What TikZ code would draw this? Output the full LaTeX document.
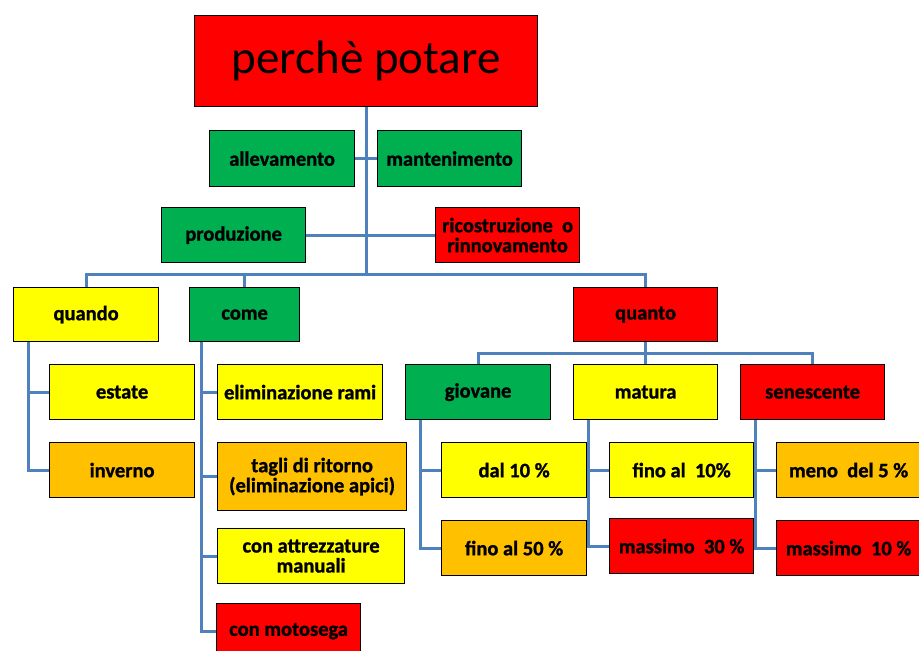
\documentclass[tikz,border=0pt]{standalone}
\usepackage{fontspec}
\setmainfont{Carlito}[BoldFeatures={FakeBold=1.2}]
\usepackage{tikz}
\usetikzlibrary{positioning, calc}

\definecolor{boxgreen}{RGB}{0,176,80}
\definecolor{boxred}{RGB}{255,0,0}
\definecolor{boxyellow}{RGB}{255,255,0}
\definecolor{boxorange}{RGB}{255,192,0}
\definecolor{linkblue}{RGB}{79,129,189}

\tikzset{
  box/.style={draw=black, line width=1.2pt, anchor=north west, align=center,
    inner sep=0pt, font=\bfseries\fontsize{20.5}{20}\selectfont},
  green/.style={box, fill=boxgreen},
  red/.style={box, fill=boxred},
  yellow/.style={box, fill=boxyellow},
  orange/.style={box, fill=boxorange},
  link/.style={draw=linkblue, line width=3pt},
}

\begin{document}
\begin{tikzpicture}[x=1pt, y=-1pt]
\useasboundingbox (0,0) rectangle (919,651);
\clip (0,0) rectangle (919,651);

% --- top: title and the four aims ---
\node[red, minimum width=343, minimum height=91, font=\fontsize{47}{50}\selectfont]
  (title) at (194,15) {perchè potare};
\node[green, minimum width=145, minimum height=56] (allev) at (209,130) {allevamento};
\node[green, minimum width=144, minimum height=56] (mant) at (377,130) {mantenimento};
\node[green, minimum width=144, minimum height=55] (prod) at (161,207) {produzione};
\node[red, minimum width=144, minimum height=55] (ricos) at (435,207)
  {ricostruzione\ \ o\\rinnovamento};

% --- second row ---
\node[yellow, minimum width=145, minimum height=54] (quando) at (13,287) {quando};
\node[green, minimum width=110, minimum height=54] (come) at (189,287) {come};
\node[red, minimum width=144, minimum height=54] (quanto) at (573,287) {quanto};

% quando
\node[yellow, minimum width=145, minimum height=55] (estate) at (49,364) {estate};
\node[orange, minimum width=145, minimum height=55] (inverno) at (49,442) {inverno};

% come
\node[yellow, minimum width=165, minimum height=55] (elimrami) at (217,364) {eliminazione rami};
\node[orange, minimum width=189, minimum height=68] (tagli) at (217,442)
  {tagli di ritorno\\(eliminazione apici)};
\node[yellow, minimum width=187, minimum height=55] (attrezz) at (217,528)
  {con attrezzature\\manuali};
\node[red, minimum width=144, minimum height=55] (motosega) at (216,603) {con motosega};

% quanto
\node[green, minimum width=145, minimum height=55] (giovane) at (405,364) {giovane};
\node[yellow, minimum width=144, minimum height=55] (matura) at (573,364) {matura};
\node[red, minimum width=144, minimum height=55] (senesc) at (740,364) {senescente};

\node[yellow, minimum width=145, minimum height=55] (dal10) at (441,442) {dal 10 \%};
\node[orange, minimum width=145, minimum height=55] (fino50) at (441,520) {fino al 50 \%};
\node[yellow, minimum width=144, minimum height=55] (fino10) at (609,442) {fino al\ \ 10\%};
\node[red, minimum width=144, minimum height=55] (mass30) at (609,518) {massimo\ \ 30 \%};
\node[orange, minimum width=144, minimum height=55] (meno5) at (776,442) {meno\ \ del 5 \%};
\node[red, minimum width=144, minimum height=55] (mass10) at (776,520) {massimo\ \ 10 \%};

% --- connectors ---
\coordinate (hub) at (title.south |- 0,274);
\draw[link] (title.south) -- (hub);
\draw[link] (allev.east) -- (mant.west);
\draw[link] (prod.east) -- (prod.east -| hub);
\draw[link] (ricos.west) -- (ricos.west -| hub);
\draw[link] (quando.north) |- (hub) -| (quanto.north);
\draw[link] (come.north) -- (come.north |- hub);

\coordinate (qrail) at ([xshift=15]quando.south west);
\draw[link] (qrail) |- (estate.west);
\draw[link] (qrail) |- (inverno.west);

\coordinate (crail) at ([xshift=12]come.south west);
\draw[link] (crail) |- (elimrami.west);
\draw[link] (crail) |- (tagli.west);
\draw[link] (crail) |- (attrezz.west);
\draw[link] (crail) |- (motosega.west);

\draw[link] (quanto.south) -- (matura.north);
\draw[link] (giovane.north) -- ++(0,-11) -| (senesc.north);

\coordinate (grail) at ([xshift=15]giovane.south west);
\draw[link] (grail) |- (dal10.west);
\draw[link] (grail) |- (fino50.west);
\coordinate (mrail) at ([xshift=15]matura.south west);
\draw[link] (mrail) |- (fino10.west);
\draw[link] (mrail) |- (mass30.west);
\coordinate (srail) at ([xshift=15]senesc.south west);
\draw[link] (srail) |- (meno5.west);
\draw[link] (srail) |- (mass10.west);
\end{tikzpicture}
\end{document}
